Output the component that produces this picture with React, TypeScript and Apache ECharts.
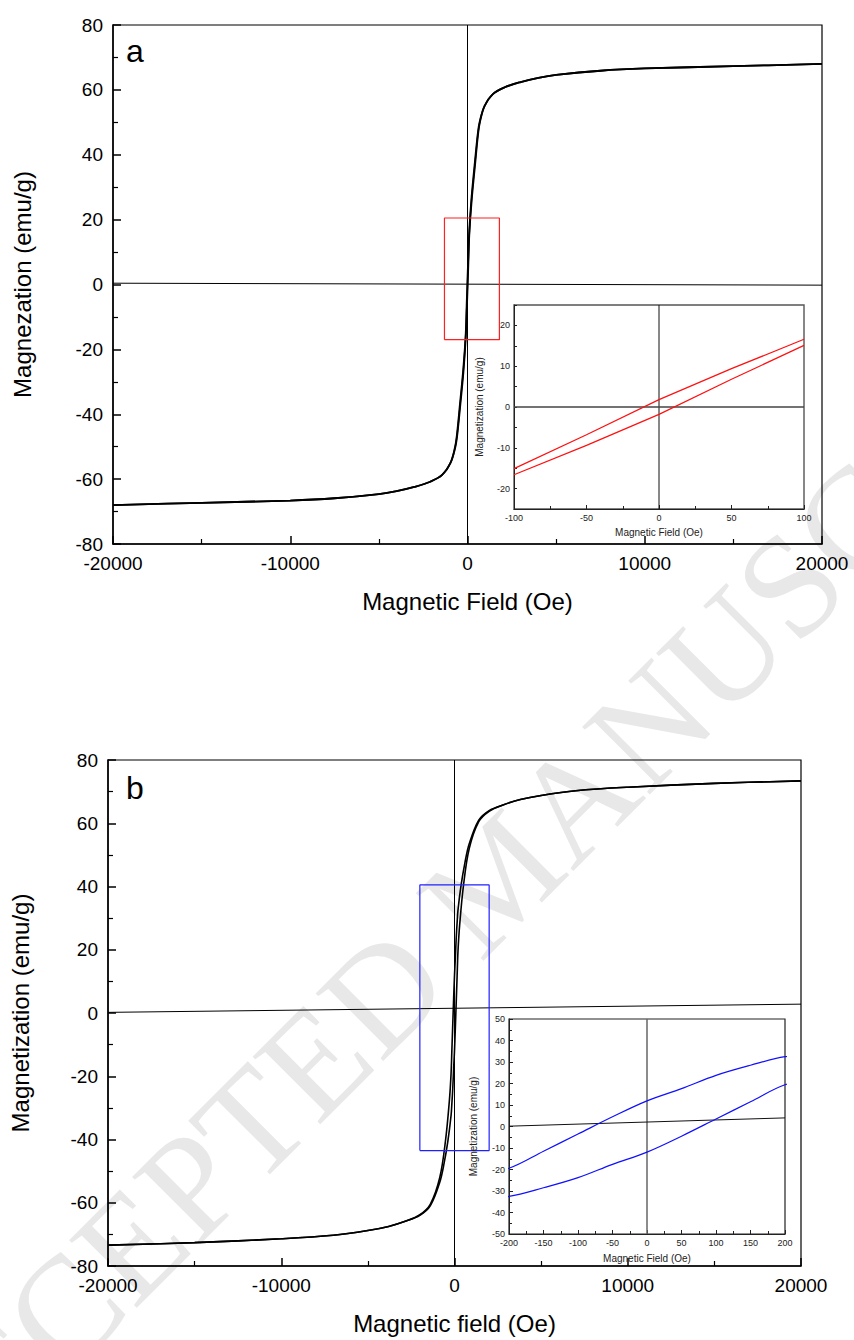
import React, { useEffect, useRef } from "react";
import * as echarts from "echarts";

// ---------- Panel a : main hysteresis loop ----------
const fieldADown = [20000, 15000, 10000, 7500, 5000, 4000, 3000, 2100, 1430, 960, 700, 590, 420, 230, 100, 50, 0, -50, -100, -230, -420, -590, -700, -960, -1430, -2100, -3000, -4000, -5000, -7500, -10000, -15000, -20000];
const magADown = [68, 67.3, 66.6, 65.9, 64.6, 63.7, 62.4, 60.8, 58.7, 55.0, 50.5, 47, 38, 27, 16.6, 9.4, 1.8, -6.8, -15.1, -25.5, -36.5, -46, -50, -55, -58.7, -60.8, -62.4, -63.7, -64.6, -65.9, -66.6, -67.3, -68];
const fieldAUp = [-20000, -15000, -10000, -7500, -5000, -4000, -3000, -2100, -1430, -960, -700, -590, -420, -230, -100, -50, 0, 50, 100, 230, 420, 590, 700, 960, 1430, 2100, 3000, 4000, 5000, 7500, 10000, 15000, 20000];
const magAUp = [-68, -67.3, -66.6, -65.9, -64.6, -63.7, -62.4, -60.8, -58.7, -55.0, -50.5, -47, -38, -27, -16.6, -9.4, -1.8, 6.8, 15.1, 25.5, 36.5, 46, 50, 55, 58.7, 60.8, 62.4, 63.7, 64.6, 65.9, 66.6, 67.3, 68];
const zeroLineAField = [-20000, 20000];
const zeroLineAMag = [0.4, -0.2];
const boxAField = [-1300, 1800, 1800, -1300, -1300];
const boxAMag = [-17, -17, 20.5, 20.5, -17];

// ---------- Panel a : inset ----------
const insetAField = [-100, -50, 0, 50, 100];
const insetAUpper = [-15.1, -6.8, 1.8, 9.4, 16.6];
const insetALower = [-16.6, -9.4, -1.8, 6.8, 15.1];

// ---------- Panel b : main hysteresis loop ----------
const fieldBDown = [20000, 15000, 10000, 7000, 5000, 3800, 2800, 2000, 1400, 850, 600, 380, 200, 150, 100, 50, 0, -50, -100, -150, -200, -300, -520, -850, -1400, -2000, -2800, -3800, -5000, -7000, -10000, -15000, -20000];
const magBDown = [73.4, 72.6, 71.4, 70.3, 68.8, 67.5, 65.8, 64.0, 61.0, 53.5, 47.5, 40.4, 32.5, 28.5, 23.8, 17.6, 11.9, 4.5, -3.5, -11.5, -19.4, -28.0, -40.4, -52.0, -60.5, -63.8, -65.8, -67.5, -68.8, -70.3, -71.4, -72.6, -73.4];
const fieldBUp = [-20000, -15000, -10000, -7000, -5000, -3800, -2800, -2000, -1400, -850, -600, -380, -200, -150, -100, -50, 0, 50, 100, 150, 200, 300, 520, 850, 1400, 2000, 2800, 3800, 5000, 7000, 10000, 15000, 20000];
const magBUp = [-73.4, -72.6, -71.4, -70.3, -68.8, -67.5, -65.8, -64.0, -61.0, -53.5, -47.5, -40.4, -32.5, -28.5, -23.8, -17.6, -11.9, -4.5, 3.5, 11.5, 19.4, 28.0, 40.4, 52.0, 60.5, 63.8, 65.8, 67.5, 68.8, 70.3, 71.4, 72.6, 73.4];
const slopeLineBField = [-20000, 20000];
const slopeLineBMag = [0.2, 2.8];
const boxBField = [-2000, 2000, 2000, -2000, -2000];
const boxBMag = [-43.5, -43.5, 40.5, 40.5, -43.5];

// ---------- Panel b : inset ----------
const insetBSlopeField = [-200, 200];
const insetBSlopeMag = [0.15, 4.0];

const zip = (xs: number[], ys: number[]) => xs.map((x, i) => [x, ys[i]]);

const FONT = "Liberation Sans, Arial, sans-serif";

function mainX(gridIndex: number, name: string) {
  return {
    gridIndex, type: "value", min: -20000, max: 20000, interval: 10000,
    name, nameLocation: "middle", nameGap: 45,
    nameTextStyle: { fontSize: 24, color: "#000", fontFamily: FONT },
    axisLine: { onZero: false, lineStyle: { color: "#000", width: 1.5 } },
    axisTick: { inside: true, length: 8, lineStyle: { color: "#000", width: 1.5 } },
    minorTick: { show: true, splitNumber: 2, length: 5, lineStyle: { color: "#000", width: 1.2 } },
    axisLabel: { color: "#000", fontSize: 19, fontFamily: FONT, margin: 10, formatter: (v: number) => String(v) },
    splitLine: { show: false },
  };
}
function mainY(gridIndex: number, name: string, gap: number) {
  return {
    gridIndex, type: "value", min: -80, max: 80, interval: 20,
    name, nameLocation: "middle", nameGap: gap,
    nameTextStyle: { fontSize: 24, color: "#000", fontFamily: FONT },
    axisLine: { onZero: false, lineStyle: { color: "#000", width: 1.5 } },
    axisTick: { inside: true, length: 8, lineStyle: { color: "#000", width: 1.5 } },
    minorTick: { show: true, splitNumber: 2, length: 5, lineStyle: { color: "#000", width: 1.2 } },
    axisLabel: { color: "#000", fontSize: 19, fontFamily: FONT, margin: 10 },
    splitLine: { show: false },
  };
}

function line(x: number, y: number, data: number[][], color: string, width: number, smooth: any = false, z = 3) {
  return {
    type: "line", xAxisIndex: x, yAxisIndex: y, data, symbol: "none", silent: true,
    smooth, clip: true, z,
    lineStyle: { color, width },
  };
}

export default function App() {
  const ref = useRef<HTMLDivElement>(null);
  useEffect(() => {
    if (!ref.current) return;
    const chart = echarts.init(ref.current, null, { renderer: "svg" });
    const insetTitle = { fontSize: 10, color: "#222", fontFamily: FONT };
    const insetLabel = { color: "#222", fontSize: 9, fontFamily: FONT, margin: 4 };
    const option: any = {
      animation: false,
      backgroundColor: "#fff",
      grid: [
        { left: 113, top: 25, width: 709, height: 519, show: true, borderColor: "#000", borderWidth: 1.2 },
        { left: 514, top: 305, width: 290, height: 204, show: true, borderColor: "#555", borderWidth: 1.4, backgroundColor: "#fff", z: 5 },
        { left: 108, top: 760, width: 693, height: 506, show: true, borderColor: "#000", borderWidth: 1.2 },
        { left: 509, top: 1019, width: 276, height: 215, show: true, borderColor: "#222", borderWidth: 1.2, backgroundColor: "#fff", z: 5 },
      ],
      xAxis: [
        mainX(0, "Magnetic Field (Oe)"),
        {
          gridIndex: 1, type: "value", min: -100, max: 100, interval: 50,
          name: "Magnetic Field (Oe)", nameLocation: "middle", nameGap: 18, nameTextStyle: insetTitle,
          axisLine: { onZero: false, lineStyle: { color: "#222", width: 1 } },
          axisTick: { inside: true, length: 4, lineStyle: { color: "#222" } },
          minorTick: { show: true, splitNumber: 2, length: 3, lineStyle: { color: "#222" } },
          axisLabel: insetLabel, splitLine: { show: false }, z: 6,
        },
        mainX(2, "Magnetic field (Oe)"),
        {
          gridIndex: 3, type: "value", min: -200, max: 200, interval: 50,
          name: "Magnetic Field (Oe)", nameLocation: "middle", nameGap: 19, nameTextStyle: insetTitle,
          axisLine: { onZero: false, lineStyle: { color: "#222", width: 1 } },
          axisTick: { inside: true, length: 4, lineStyle: { color: "#222" } },
          minorTick: { show: true, splitNumber: 2, length: 3, lineStyle: { color: "#222" } },
          axisLabel: insetLabel, splitLine: { show: false }, z: 6,
        },
      ],
      yAxis: [
        mainY(0, "Magnezation (emu/g)", 79),
        {
          gridIndex: 1, type: "value", min: -25, max: 25, interval: 5,
          name: "Magnetization (emu/g)", nameLocation: "middle", nameGap: 30, nameTextStyle: insetTitle,
          axisLine: { onZero: false, lineStyle: { color: "#222", width: 1 } },
          axisTick: { inside: true, length: 3, lineStyle: { color: "#222" } },
          axisLabel: { ...insetLabel, formatter: (v: number) => (v % 10 === 0 ? String(v) : "") },
          splitLine: { show: false }, z: 6,
        },
        mainY(2, "Magnetization (emu/g)", 76),
        {
          gridIndex: 3, type: "value", min: -50, max: 50, interval: 10,
          name: "Magnetization (emu/g)", nameLocation: "middle", nameGap: 31, nameTextStyle: insetTitle,
          axisLine: { onZero: false, lineStyle: { color: "#222", width: 1 } },
          axisTick: { inside: true, length: 4, lineStyle: { color: "#222" } },
          minorTick: { show: true, splitNumber: 2, length: 3, lineStyle: { color: "#222" } },
          axisLabel: insetLabel, splitLine: { show: false }, z: 6,
        },
      ],
      graphic: [
        {
          type: "text", x: 499, y: 876, rotation: (45 * Math.PI) / 180, z: -10, silent: true,
          style: { text: "ACCEPTED MANUSCRIPT", fontFamily: "Liberation Serif, serif", fontSize: 146, fill: "#e8e8e8", align: "center", verticalAlign: "middle" },
        },
        { type: "text", x: 126, y: 51, z: 10, style: { text: "a", fontFamily: FONT, fontSize: 32, fill: "#000", verticalAlign: "middle" } },
        { type: "text", x: 126, y: 788, z: 10, style: { text: "b", fontFamily: FONT, fontSize: 32, fill: "#000", verticalAlign: "middle" } },
      ],
      series: [
        // panel a main
        line(0, 0, [[0, -80], [0, 80]], "#000", 1),
        line(0, 0, zip(zeroLineAField, zeroLineAMag), "#000", 1),
        line(0, 0, zip(fieldADown, magADown), "#000", 1.8, 0.35),
        line(0, 0, zip(fieldAUp, magAUp), "#000", 1.8, 0.35),
        line(0, 0, zip(boxAField, boxAMag), "#ff2020", 1.2, false, 4),
        // panel a inset
        line(1, 1, [[0, -25], [0, 25]], "#111", 1, false, 7),
        line(1, 1, [[-100, 0], [100, 0]], "#444", 1.3, false, 7),
        line(1, 1, zip(insetAField, insetAUpper), "#ff1010", 1.2, false, 8),
        line(1, 1, zip(insetAField, insetALower), "#ff1010", 1.2, false, 8),
        // panel b main
        line(2, 2, [[0, -80], [0, 80]], "#000", 1),
        line(2, 2, zip(slopeLineBField, slopeLineBMag), "#000", 1),
        line(2, 2, zip(fieldBDown, magBDown), "#000", 1.6, 0.35),
        line(2, 2, zip(fieldBUp, magBUp), "#000", 1.6, 0.35),
        line(2, 2, zip(boxBField, boxBMag), "#2020ff", 1.2, false, 4),
        // panel b inset
        line(3, 3, [[0, -50], [0, 50]], "#666", 1.5, false, 7),
        line(3, 3, zip(insetBSlopeField, insetBSlopeMag), "#111", 1, false, 7),
        line(3, 3, zip(fieldBDown, magBDown), "#1010ff", 1.2, 0.35, 8),
        line(3, 3, zip(fieldBUp, magBUp), "#1010ff", 1.2, 0.35, 8),
      ],
    };
    chart.setOption(option);
    return () => chart.dispose();
  }, []);
  return <div ref={ref} style={{ position: "absolute", left: 0, top: 0, width: 854, height: 1340 }} />;
}
